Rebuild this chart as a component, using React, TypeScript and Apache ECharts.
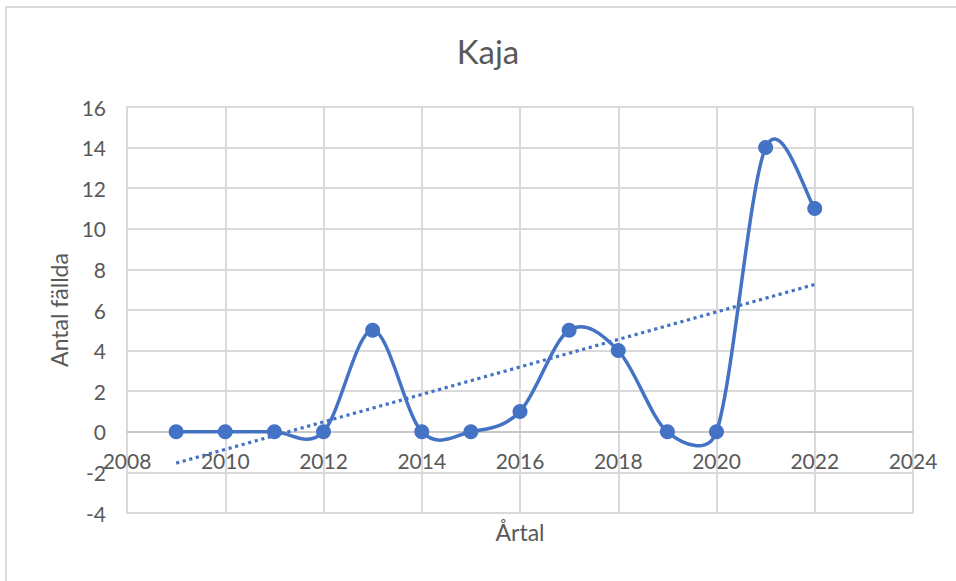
import React, { useEffect, useRef } from "react";
import * as echarts from "echarts";

// ---- Data ----
const years: number[] = [2009, 2010, 2011, 2012, 2013, 2014, 2015, 2016, 2017, 2018, 2019, 2020, 2021, 2022];
const counts: number[] = [0, 0, 0, 0, 5, 0, 0, 1, 5, 4, 0, 0, 14, 11];
const chartTitle = "Kaja";
const xAxisTitle = "Årtal";
const yAxisTitle = "Antal fällda";
const xRange = { min: 2008, max: 2024, interval: 2 };
const yRange = { min: -4, max: 16, interval: 2 };

// Linear trend line (least squares, like Excel's linear trendline)
function linearFit(xs: number[], ys: number[]) {
  const n = xs.length;
  const mx = xs.reduce((a, b) => a + b, 0) / n;
  const my = ys.reduce((a, b) => a + b, 0) / n;
  let sxy = 0;
  let sxx = 0;
  for (let i = 0; i < n; i++) {
    sxy += (xs[i] - mx) * (ys[i] - my);
    sxx += (xs[i] - mx) * (xs[i] - mx);
  }
  const slope = sxy / sxx;
  return { slope, intercept: my - slope * mx };
}

const BLUE = "#4472C4";
const TEXT = "#595959";
const GRID = "#D9D9D9";
const FONT = "Lato, 'Noto Sans', sans-serif";

const W = 956;
const H = 581;
const GRID_LEFT = 127;
const GRID_TOP = 107;
const GRID_RIGHT = 43;
const GRID_BOTTOM = 68;

export default function App() {
  const ref = useRef<HTMLDivElement>(null);

  useEffect(() => {
    if (!ref.current) return;
    const chart = echarts.init(ref.current, null, { renderer: "svg" });

    const fit = linearFit(years, counts);
    const x0 = years[0];
    const x1 = years[years.length - 1];
    const trend = [
      [x0, fit.intercept + fit.slope * x0],
      [x1, fit.intercept + fit.slope * x1],
    ];
    const points = years.map((y, i) => [y, counts[i]]);
    const n = years.length;
    const clampIdx = (k: number) => Math.max(0, Math.min(n - 1, k));

    // Excel-style: horizontal axis crosses the vertical axis at 0
    const plotH = H - GRID_TOP - GRID_BOTTOM;
    const zeroOffset = -((0 - yRange.min) / (yRange.max - yRange.min)) * plotH;

    const option: any = {
      animation: false,
      backgroundColor: "#ffffff",
      textStyle: { fontFamily: FONT },
      title: {
        text: chartTitle,
        left: 483,
        top: 29,
        textAlign: "center",
        textStyle: { color: TEXT, fontSize: 33, fontWeight: "normal", fontFamily: FONT },
      },
      grid: {
        left: GRID_LEFT,
        top: GRID_TOP,
        right: GRID_RIGHT,
        bottom: GRID_BOTTOM,
        containLabel: false,
        outerBoundsMode: "none",
      },
      xAxis: {
        type: "value",
        min: xRange.min,
        max: xRange.max,
        interval: xRange.interval,
        offset: zeroOffset,
        name: xAxisTitle,
        nameLocation: "middle",
        nameGap: 89,
        nameTextStyle: { color: TEXT, fontSize: 23, fontFamily: FONT },
        axisLine: {
          show: true,
          onZero: false,
          lineStyle: { color: "#C8C8C8", width: 2 },
        },
        axisTick: { show: false },
        axisLabel: {
          color: TEXT,
          fontSize: 21,
          margin: 18,
          fontFamily: FONT,
          formatter: (v: number) => String(v),
          hideOverlap: false,
        },
        splitLine: { show: true, lineStyle: { color: GRID, width: 2 } },
      },
      yAxis: {
        type: "value",
        min: yRange.min,
        max: yRange.max,
        interval: yRange.interval,
        name: yAxisTitle,
        nameLocation: "middle",
        nameRotate: 90,
        nameGap: 52,
        nameTextStyle: { color: TEXT, fontSize: 23, fontFamily: FONT },
        axisLine: { show: true, onZero: false, lineStyle: { color: GRID, width: 2 } },
        axisTick: { show: false },
        axisLabel: { color: TEXT, fontSize: 21, margin: 21, fontFamily: FONT },
        splitLine: { show: true, lineStyle: { color: GRID, width: 2 } },
      },
      series: [
        {
          type: "line",
          name: "Trend",
          data: trend,
          symbol: "none",
          lineStyle: { color: BLUE, width: 3.2, type: [3.2, 3.6] },
          z: 3,
        },
        {
          type: "custom",
          name: "Kurva",
          data: points,
          encode: { x: 0, y: 1 },
          z: 4,
          renderItem: (params: any, api: any) => {
            const i = params.dataIndex;
            if (i >= n - 1) return null;
            const P = (k: number) => {
              const c = clampIdx(k);
              return api.coord([years[c], counts[c]]);
            };
            const p0 = P(i - 1);
            const p1 = P(i);
            const p2 = P(i + 1);
            const p3 = P(i + 2);
            const dist = (a: number[], b: number[]) => Math.hypot(a[0] - b[0], a[1] - b[1]);
            const seg = dist(p1, p2);
            const d02 = dist(p0, p2);
            const d13 = dist(p1, p3);
            const f1 = d02 > 0 ? Math.min(1 / 6, (0.5 * seg) / d02) : 0;
            const f2 = d13 > 0 ? Math.min(1 / 6, (0.5 * seg) / d13) : 0;
            return {
              type: "bezierCurve",
              shape: {
                x1: p1[0],
                y1: p1[1],
                x2: p2[0],
                y2: p2[1],
                cpx1: p1[0] + (p2[0] - p0[0]) * f1,
                cpy1: p1[1] + (p2[1] - p0[1]) * f1,
                cpx2: p2[0] - (p3[0] - p1[0]) * f2,
                cpy2: p2[1] - (p3[1] - p1[1]) * f2,
              },
              style: { stroke: BLUE, lineWidth: 3.5, fill: null, lineCap: "round" },
            };
          },
        },
        {
          type: "scatter",
          name: "Antal fällda",
          data: points,
          symbol: "circle",
          symbolSize: 15,
          itemStyle: { color: BLUE, opacity: 1 },
          z: 5,
        },
      ],
    };

    chart.setOption(option);
    return () => {
      chart.dispose();
    };
  }, []);

  return (
    <div
      style={{
        position: "fixed",
        left: 0,
        top: 0,
        width: W,
        height: H,
        background: "#fff",
        overflow: "hidden",
      }}
    >
      <div ref={ref} style={{ position: "absolute", left: 0, top: 0, width: W, height: H }} />
      <div
        style={{
          position: "absolute",
          left: 5,
          top: 6,
          width: 1000,
          height: 1000,
          borderLeft: "2px solid #D9D9D9",
          borderTop: "2px solid #D9D9D9",
          pointerEvents: "none",
        }}
      />
    </div>
  );
}
